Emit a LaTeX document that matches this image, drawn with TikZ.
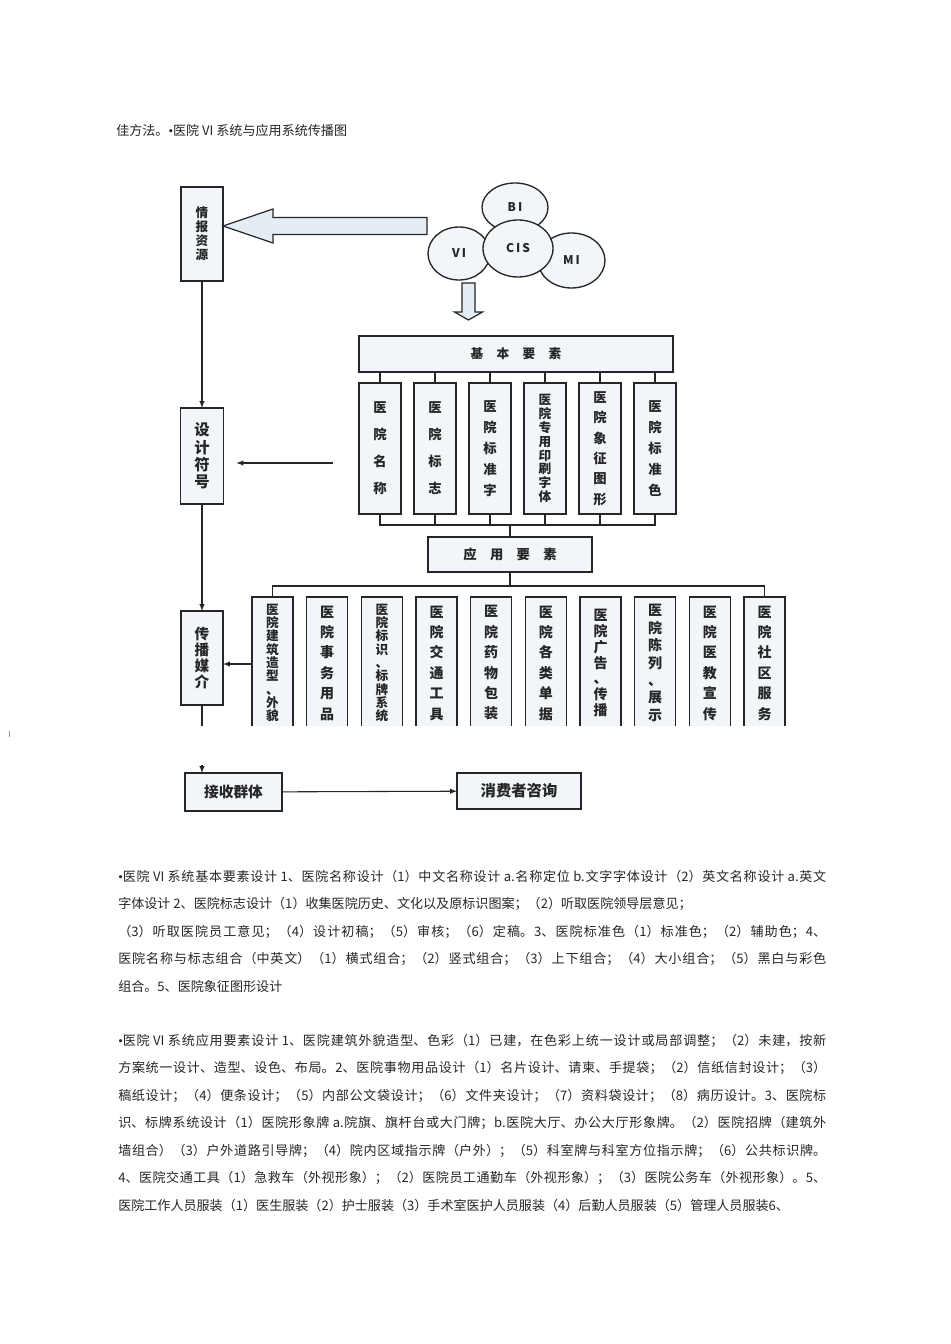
\documentclass[tikz,border=0pt]{standalone}
\usepackage{xcolor}
\usepackage{fontspec}
\setmainfont{Noto Sans CJK SC}
\newfontfamily\latinfont{Liberation Serif}
\usepackage{tikz}
\usetikzlibrary{positioning,calc,shapes.geometric}

\definecolor{ink}{HTML}{262626}
\definecolor{boxfill}{HTML}{F2F6FA}
\definecolor{blockfill}{HTML}{E4ECF4}

\newcommand{\cjkbreaks}{\XeTeXlinebreaklocale "zh"\XeTeXlinebreakskip=0pt plus 2pt\relax}
\newcommand{\dotmark}{{\latinfont •}}

\begin{document}
\begin{tikzpicture}[
        x=0.75pt, y=-0.75pt,
        node distance=9.75pt,
        box/.style={rectangle, draw=ink, line width=1.1pt, fill=boxfill, inner sep=0pt, outer sep=0pt, align=center, text=ink},
        sidebox/.style={box, minimum width=31.5pt, minimum height=70.5pt},
        basebox/.style={box, minimum width=31.5pt, minimum height=98.25pt},
        appbox/.style={box, minimum width=30.75pt, minimum height=99pt},
        flatbox/.style={box, minimum height=27pt},
        txt/.style 2 args={font={\bfseries\fontsize{#1}{#2}\selectfont}},
        ring/.style={ellipse, draw=ink, line width=1pt, fill=boxfill, inner sep=0pt, outer sep=0pt, text=ink, font={\bfseries\fontsize{9pt}{9pt}\selectfont}},
        link/.style={draw=ink, line width=0.8pt},
        arrow/.style={link, -latex},
        blockarrow/.style={draw=ink, line width=0.9pt, fill=blockfill, line join=miter},
        para/.style={anchor=north west, inner sep=0pt, text width=531pt, align=justify, text=ink, font={\fontsize{9.8pt}{20.6pt}\selectfont}, execute at begin node=\cjkbreaks}
    ]

    \fill[white] (0,0) rectangle (950,1344);
    \useasboundingbox (0,0) rectangle (950,1344);

    % Title line
    \node[anchor=west, inner sep=0pt, text=ink, font={\fontsize{9.8pt}{12pt}\selectfont}] (title) at (116,131) {佳方法。\dotmark 医院 VI 系统与应用系统传播图};

    \begin{scope}
    \clip (150,150) rectangle (820,725);

    % Left column
    \node[sidebox, txt={9.5pt}{10.5pt}] (info) at (202,234) {情\\报\\资\\源};
    \node[sidebox, minimum width=32.25pt, minimum height=72pt, txt={11.5pt}{13pt}, below=95.25pt of info] (design) {设\\计\\符\\号};
    \node[sidebox, txt={11pt}{12pt}, below=80.25pt of design] (media) {传\\播\\媒\\介};

    % CIS circles
    \node[ring, minimum width=49.5pt, minimum height=36.75pt] (bi) at (515,207.5) {B\,I};
    \node[ring, minimum width=46.5pt, minimum height=39.75pt] (vi) at (459,253.5) {V\,I};
    \node[ring, minimum width=50.25pt, minimum height=41.25pt] (mi) at (571.5,260.5) {M\,I};
    \node[ring, minimum width=52.5pt, minimum height=42.75pt] (cis) at (518,248.5) {C\,I\,S};

    % Block arrows
    \coordinate (cisleft) at (427,226);
    \draw[blockarrow] (cisleft -| info.east) -- ++(50,-17) -- ++(0,8.5) -- ++(154,0) -- ++(0,17) -- ++(-154,0) -- ++(0,8.5) -- cycle;
    \coordinate (cisdown) at (468.5,283);
    \draw[blockarrow] (cisdown) ++(-6.5,0) -- ++(13,0) -- ++(0,29) -- ++(7.5,0) -- ++(-14,8) -- ++(-14,-8) -- ++(7.5,0) -- cycle;

    % Basic elements
    \node[flatbox, minimum width=235.5pt, txt={9.5pt}{10pt}] (basic) at (516,354) {基\hspace{10pt}本\hspace{10pt}要\hspace{10pt}素};
    \node[basebox, txt={10pt}{20.25pt}] (b1) at (380,448.5) {医\\院\\名\\称};
    \node[basebox, txt={10pt}{20.25pt}, right=of b1] (b2) {医\\院\\标\\志};
    \node[basebox, txt={10pt}{15.75pt}, right=of b2] (b3) {医\\院\\标\\准\\字};
    \node[basebox, txt={9.5pt}{10.4pt}, right=of b3] (b4) {医\\院\\专\\用\\印\\刷\\字\\体};
    \node[basebox, txt={10pt}{15.3pt}, right=of b4] (b5) {医\\院\\象\\征\\图\\形};
    \node[basebox, txt={10pt}{15.75pt}, right=of b5] (b6) {医\\院\\标\\准\\色};

    % Application elements
    \node[flatbox, minimum width=123pt, minimum height=26.25pt, txt={10pt}{10pt}] (apply) at (510,554.5) {应\hspace{10pt}用\hspace{10pt}要\hspace{10pt}素};
    \node[appbox, txt={9.5pt}{10pt}] (a1) at (272.5,663) {医\\院\\建\\筑\\造\\型\\、\\外\\貌};
    \node[appbox, txt={10.5pt}{15.3pt}, right=10.25pt of a1] (a2) {医\\院\\事\\务\\用\\品};
    \node[appbox, txt={9.5pt}{10pt}, right=10.25pt of a2] (a3) {医\\院\\标\\识\\、\\标\\牌\\系\\统};
    \node[appbox, txt={10.5pt}{15.3pt}, right=10.25pt of a3] (a4) {医\\院\\交\\通\\工\\具};
    \node[appbox, txt={10.5pt}{15.3pt}, right=10.25pt of a4] (a5) {医\\院\\药\\物\\包\\装};
    \node[appbox, txt={10.5pt}{15.3pt}, right=10.25pt of a5] (a6) {医\\院\\各\\类\\单\\据};
    \node[appbox, txt={10.5pt}{11.9pt}, right=10.25pt of a6] (a7) {医\\院\\广\\告\\、\\传\\播};
    \node[appbox, txt={10.5pt}{13.1pt}, right=10.25pt of a7] (a8) {医\\院\\陈\\列\\、\\展\\示};
    \node[appbox, txt={10.5pt}{15.3pt}, right=10.25pt of a8] (a9) {医\\院\\医\\教\\宣\\传};
    \node[appbox, txt={10.5pt}{15.3pt}, right=10.25pt of a9] (a10) {医\\院\\社\\区\\服\\务};

    % Tree lines
    \foreach \i in {1,...,6}
        \draw[link] (basic.south -| b\i.north) -- (b\i.north);
    \coordinate (bbus) at (510,525);
    \draw[link] (b1.south) -- (b1.south |- bbus) -- (b6.south |- bbus) -- (b6.south);
    \foreach \i in {2,...,5}
        \draw[link] (b\i.south) -- (b\i.south |- bbus);
    \draw[link] (bbus) -- (apply.north);
    \coordinate (abus) at (510,586);
    \draw[link] (apply.south) -- (abus);
    \draw[link] (a1.north) -- (a1.north |- abus) -- (a10.north |- abus) -- (a10.north);

    % Flow on the left
    \draw[arrow] (info) -- (design);
    \draw[arrow] (design) -- (media);
    \draw[link] (media.south) -- (media.south |- 0,760);
    \coordinate (dsrc) at (333,463);
    \draw[arrow, shorten >=9.75pt] (dsrc) -- (dsrc -| design.east);
    \draw[arrow] (a1.west |- 0,664) -- (media.east |- 0,664);
    \end{scope}

    % Receivers
    \node[box, minimum width=72.75pt, minimum height=28.5pt, txt={11pt}{11pt}] (recv) at (233.5,792) {接收群体};
    \node[box, minimum width=93pt, minimum height=27pt, txt={11.5pt}{11.5pt}] (consult) at (519,791) {消费者咨询};
    \coordinate (recvin) at (media.south |- 0,765);
    \draw[arrow] (recvin) -- (recvin |- recv.north);
    \draw[arrow] (recv) -- (consult);

    % Stray mark
    \draw[ink!50, line width=0.6pt] (9,731) -- (9,737);

    % Text below
    \node[para] (basics) at (118,870) {\dotmark 医院 VI 系统基本要素设计 1、医院名称设计（1）中文名称设计 a.名称定位 b.文字字体设计（2）英文名称设计 a.英文\break
字体设计 2、医院标志设计（1）收集医院历史、文化以及原标识图案；（2）听取医院领导层意见；\hfil\break
（3）听取医院员工意见；（4）设计初稿；（5）审核；（6）定稿。3、医院标准色（1）标准色；（2）辅助色；4、\break
医院名称与标志组合（中英文）（1）横式组合；（2）竖式组合；（3）上下组合；（4）大小组合；（5）黑白与彩色\break
组合。5、医院象征图形设计};

    \node[para] (applied) at (118,1034) {\parfillskip=0pt \dotmark 医院 VI 系统应用要素设计 1、医院建筑外貌造型、色彩（1）已建，在色彩上统一设计或局部调整；（2）未建，按新\break
方案统一设计、造型、设色、布局。2、医院事物用品设计（1）名片设计、请柬、手提袋；（2）信纸信封设计；（3）\break
稿纸设计；（4）便条设计；（5）内部公文袋设计；（6）文件夹设计；（7）资料袋设计；（8）病历设计。3、医院标\break
识、标牌系统设计（1）医院形象牌 a.院旗、旗杆台或大门牌；b.医院大厅、办公大厅形象牌。（2）医院招牌（建筑外\break
墙组合）（3）户外道路引导牌；（4）院内区域指示牌（户外）；（5）科室牌与科室方位指示牌；（6）公共标识牌。\break
4、医院交通工具（1）急救车（外视形象）；（2）医院员工通勤车（外视形象）；（3）医院公务车（外视形象）。5、\break
医院工作人员服装（1）医生服装（2）护士服装（3）手术室医护人员服装（4）后勤人员服装（5）管理人员服装6、};

\end{tikzpicture}
\end{document}
